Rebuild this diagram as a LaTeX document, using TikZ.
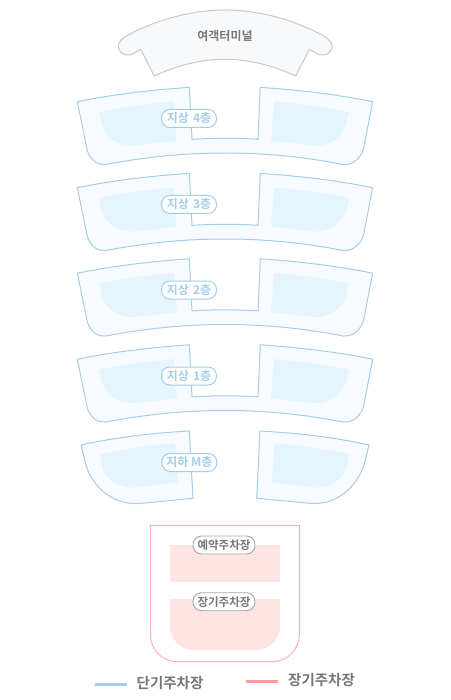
\documentclass[tikz,border=0pt]{standalone}
\usepackage{fontspec}
\setmainfont{Noto Sans CJK KR}[BoldFont={Noto Sans CJK KR Bold}]
\definecolor{shortline}{HTML}{A4CEE8}
\definecolor{shortfill}{HTML}{F7FBFF}
\definecolor{shortzone}{HTML}{E4F5FD}
\definecolor{longline}{HTML}{FFB0B0}
\definecolor{longzone}{HTML}{FFE4E4}
\definecolor{termline}{HTML}{C8C8C8}
\definecolor{termfill}{HTML}{F8F9FB}
\definecolor{textgray}{HTML}{777777}
\tikzset{
  floorshape/.style={draw=shortline, fill=shortfill, line width=1pt, line join=round},
  floorzone/.style={fill=shortzone},
  floortag/.style={draw=shortline, fill=white, line width=1pt, rounded corners=8.5pt, minimum width=55pt, minimum height=18pt, inner sep=0pt, text=shortline, font=\bfseries\fontsize{12}{12}\selectfont},
  parktag/.style={draw=gray!70, fill=white, line width=0.9pt, rounded corners=8.5pt, minimum width=62pt, minimum height=18pt, inner sep=0pt, text=textgray, font=\bfseries\fontsize{11.5}{12}\selectfont},
  legendtext/.style={text=textgray, inner sep=0pt, font=\bfseries\fontsize{14.5}{14}\selectfont},
  legendline/.style={line width=3pt}
}
\begin{document}
\begin{tikzpicture}[x=1pt, y=-1pt]
    \useasboundingbox (0,0) rectangle (450,700);
    % terminal
    \draw[draw=termline, fill=termfill, line width=1pt]
      (118.3,46) .. controls (118.5,41) and (123,38) .. (128,35)
      .. controls (160,18) and (195,10) .. (225,10)
      .. controls (255,10) and (290,18) .. (322,35)
      .. controls (327,38) and (331.5,41) .. (332.3,46)
      .. controls (332,53) and (325,56) .. (320,55)
      .. controls (316,54) and (313,51) .. (309.3,49.3)
      -- (295.7,76) .. controls (272,65) and (248,59.3) .. (225,59.3)
      .. controls (202,59.3) and (178,65) .. (154.3,76)
      -- (140.7,49.3) .. controls (137,51) and (134,54) .. (130,55)
      .. controls (125,56) and (118.5,53) .. (118.3,46) -- cycle;
    \node[text=textgray, inner sep=0pt, font=\bfseries\fontsize{12}{12}\selectfont] (terminal) at (225,36.5) {여객터미널};
    % ground floors 4 to 1
    \foreach \lvl/\yoff in {4/0,3/86,2/171.5,1/257.5} {
      \begin{scope}[shift={(0,\yoff)}]
        \draw[floorshape]
          (77.3,101.7) .. controls (115,94) and (152,90) .. (189.3,87.3)
          -- (192,139.3) .. controls (214,138) and (236,138) .. (258,139.3)
          -- (260.3,87.3) .. controls (298,90) and (335,94) .. (372.7,101.7)
          -- (363.5,149) .. controls (361,158) and (353,165.5) .. (343,164.5)
          .. controls (305,157) and (265,153) .. (225,153)
          .. controls (185,153) and (145,157) .. (106,164.5)
          .. controls (96,165.5) and (89,158) .. (87,149) -- cycle;
        \fill[floorzone]
          (99,112.3) .. controls (124,106.5) and (149,103.5) .. (174,101.7)
          -- (176.7,140.7) -- (135,145.5)
          .. controls (118,146.5) and (104,136) .. (102,124) -- cycle;
        \fill[floorzone]
          (274,101.7) .. controls (299,103.5) and (324,106.5) .. (349,112.3)
          -- (346,124) .. controls (343,136) and (330,146.5) .. (314,145.5)
          -- (271,140.7) -- cycle;
        \node[floortag] (floor\lvl) at (189,118.5) {지상\ \hspace{1.5pt}{\lvl}층};
      \end{scope}
    }
    % basement floor
    \draw[floorshape]
      (81,445) .. controls (117,437) and (153,433) .. (189.3,431)
      -- (193,498.3) -- (140,503.5)
      .. controls (108,506) and (89,480) .. (85.5,463) -- cycle;
    \draw[floorshape]
      (369,445) .. controls (333,437) and (297,433) .. (260,431)
      -- (256.7,498.3) -- (310,503.3)
      .. controls (342,506) and (360,480) .. (364.5,463) -- cycle;
    \fill[floorzone]
      (100,454.3) .. controls (125,449) and (150,445) .. (175,443.3)
      -- (177.7,482.3) -- (136,487.5)
      .. controls (118,488.5) and (104,478) .. (102,466) -- cycle;
    \fill[floorzone]
      (274.3,443.3) .. controls (299,445) and (324,449) .. (349.3,454.3)
      -- (347,466) .. controls (344,478) and (331,488.5) .. (314,487.5)
      -- (272,482.3) -- cycle;
    \node[floortag] (floorM) at (189.3,462.5) {지하\ M층};
    % parking
    \draw[draw=longline, line width=1pt] (150.5,525.3) -- (150.5,634.7)
      .. controls (150.5,649.6) and (162,661.7) .. (177.5,661.7) -- (272.3,661.7)
      .. controls (287.2,661.7) and (299.3,649.6) .. (299.3,634.7) -- (299.3,525.3) -- cycle;
    \fill[longzone] (170,545) rectangle (280,582.3);
    \fill[longzone] (170,599) -- (170,626)
      .. controls (170,639.3) and (180.7,650) .. (194,650) -- (256,650)
      .. controls (269.3,650) and (280,639.3) .. (280,626) -- (280,599) -- cycle;
    \node[parktag] (reserved) at (224,545) {예약주차장};
    \node[parktag] (longterm) at (224,601.7) {장기주차장};
    % legend
    \coordinate (shorta) at (95,684);
    \coordinate (shortb) at (126.7,684);
    \coordinate (longa) at (246,681.7);
    \coordinate (longb) at (277.7,681.7);
    \draw[legendline, shortline] (shorta) -- (shortb);
    \draw[legendline, longline!90!red] (longa) -- (longb);
    \node[legendtext, anchor=west] (shortlabel) at (136.5,683) {단기주차장};
    \node[legendtext, anchor=west] (longlabel) at (288,680) {장기주차장};
\end{tikzpicture}
\end{document}
